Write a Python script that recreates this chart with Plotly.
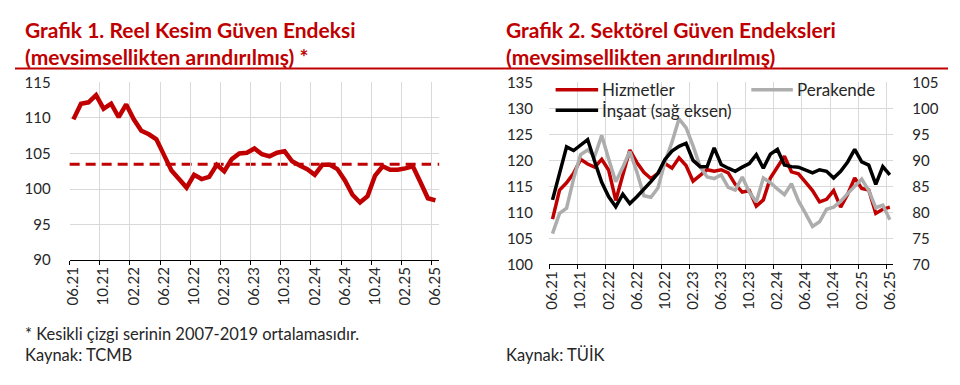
import plotly.graph_objects as go

# ---------------- data ----------------
months = ["06.21", "07.21", "08.21", "09.21", "10.21", "11.21", "12.21",
          "01.22", "02.22", "03.22", "04.22", "05.22", "06.22", "07.22",
          "08.22", "09.22", "10.22", "11.22", "12.22", "01.23", "02.23",
          "03.23", "04.23", "05.23", "06.23", "07.23", "08.23", "09.23",
          "10.23", "11.23", "12.23", "01.24", "02.24", "03.24", "04.24",
          "05.24", "06.24", "07.24", "08.24", "09.24", "10.24", "11.24",
          "12.24", "01.25", "02.25", "03.25", "04.25", "05.25", "06.25"]

reel_kesim = [109.8, 112.0, 112.2, 113.2, 111.3, 112.0, 110.1, 111.9, 109.8, 108.2,
              107.7, 107.0, 104.8, 102.6, 101.4, 100.2, 102.0, 101.4, 101.7, 103.4,
              102.5, 104.2, 105.0, 105.1, 105.7, 104.9, 104.6, 105.1, 105.3, 103.9,
              103.3, 102.8, 102.0, 103.4, 103.4, 102.8, 101.2, 99.2, 98.1, 99.0,
              101.9, 103.2, 102.7, 102.7, 102.9, 103.2, 101.0, 98.7, 98.4]
reel_kesim_avg_2007_2019 = 103.5

hizmetler = [108.7, 114.3, 115.7, 117.5, 120.2, 119.3, 118.7, 120.2, 118.1, 112.3,
             117.2, 122.0, 119.6, 117.7, 116.5, 117.5, 119.4, 118.5, 120.5, 119.0,
             116.0, 117.0, 118.2, 117.9, 118.2, 117.6, 115.4, 113.9, 114.2, 111.2,
             112.4, 116.6, 118.8, 120.8, 117.8, 117.4, 115.8, 114.2, 112.0, 112.5,
             114.2, 111.0, 113.5, 116.6, 114.6, 114.3, 109.8, 110.6, 111.0]

perakende = [105.9, 109.8, 110.8, 116.5, 121.1, 122.0, 120.8, 124.8, 120.2, 115.9,
             118.7, 121.7, 117.8, 113.2, 112.9, 114.7, 119.7, 123.5, 128.0, 126.3,
             122.8, 118.8, 116.8, 116.5, 117.2, 114.8, 114.3, 116.8, 113.9, 112.0,
             116.6, 115.7, 114.5, 113.4, 115.5, 112.2, 109.8, 107.3, 108.2, 110.6,
             111.0, 112.1, 113.6, 115.1, 116.4, 114.2, 110.9, 111.4, 108.6]

insaat = [82.4, 87.2, 92.6, 91.9, 92.9, 94.0, 89.8, 85.8, 83.0, 81.1,
          83.5, 81.7, 83.0, 84.4, 85.9, 87.5, 90.2, 91.8, 92.7, 93.3,
          90.0, 88.8, 88.8, 92.4, 89.2, 88.5, 87.9, 88.7, 89.4, 91.1,
          88.5, 91.2, 92.1, 89.1, 88.8, 88.7, 88.2, 87.6, 88.2, 87.9,
          86.6, 87.9, 89.7, 92.1, 89.7, 89.1, 85.4, 88.8, 87.2]

left_y_range = [90, 115]
right_y_range_left = [100, 135]
right_y_range_right = [70, 105]

title1_l1 = "Grafik 1. Reel Kesim Güven Endeksi"
title1_l2 = "(mevsimsellikten arındırılmış) *"
title2_l1 = "Grafik 2. Sektörel Güven Endeksleri"
title2_l2 = "(mevsimsellikten arındırılmış)"
note1 = "* Kesikli çizgi serinin 2007-2019 ortalamasıdır."
source1 = "Kaynak: TCMB"
source2 = "Kaynak: TÜİK"
series_names = ["Hizmetler", "Perakende", "İnşaat (sağ eksen)"]

# ---------------- style ----------------
# the page keeps the browser's default 8px body margin, so the figure is
# sized to fill the 960x385 window exactly together with that margin
OFF = 8
W, H = 960 - 2 * OFF, 385 - 2 * OFF
RED = "#C00000"
GREY = "#ADADAD"
BLACK = "#000000"
GRID = "#D9D9D9"
TXT = "#262626"
FONT = "Lato"
TICKFONT = dict(family=FONT, size=15, color=TXT)


def px_x(x):
    """window pixel x -> paper fraction"""
    return (x - OFF) / W


def px_y(y):
    """window pixel y (from top) -> paper fraction"""
    return 1 - (y - OFF) / H


fig = go.Figure()

fig.add_trace(go.Scatter(x=months, y=reel_kesim, mode="lines",
                         line=dict(color=RED, width=4.5),
                         xaxis="x", yaxis="y", showlegend=False,
                         hoverinfo="skip"))

fig.add_trace(go.Scatter(x=months, y=hizmetler, mode="lines", name=series_names[0],
                         line=dict(color=RED, width=3.5),
                         xaxis="x2", yaxis="y2", showlegend=False))
fig.add_trace(go.Scatter(x=months, y=perakende, mode="lines", name=series_names[1],
                         line=dict(color=GREY, width=3.5),
                         xaxis="x2", yaxis="y2", showlegend=False))
fig.add_trace(go.Scatter(x=months, y=insaat, mode="lines", name=series_names[2],
                         line=dict(color=BLACK, width=3.5),
                         xaxis="x2", yaxis="y3", showlegend=False))

common_x = dict(type="category", range=[-0.5, len(months) - 0.5],
                tickmode="linear", tick0=0, dtick=4, tickson="boundaries",
                ticks="outside", ticklen=4, tickcolor="#000", tickwidth=1,
                showline=True, linecolor="#000", linewidth=1,
                showgrid=True, gridcolor=GRID, gridwidth=1,
                tickangle=-90, tickfont=TICKFONT, fixedrange=True)

common_y = dict(dtick=5, showgrid=True, gridcolor=GRID, gridwidth=1,
                showline=False, ticks="", zeroline=False,
                tickfont=TICKFONT, fixedrange=True)

fig.update_layout(
    width=W, height=H,
    margin=dict(l=0, r=0, t=0, b=0),
    paper_bgcolor="white", plot_bgcolor="white",
    font=dict(family=FONT, color=TXT),
    showlegend=False,
    xaxis=dict(domain=[px_x(63.3), px_x(437.2)], anchor="y", **common_x),
    yaxis=dict(domain=[px_y(262.5), px_y(75.7)], anchor="x",
               range=left_y_range, ticklabelstandoff=18, **common_y),
    xaxis2=dict(domain=[px_x(548.3), px_x(896.7)], anchor="y2", **common_x),
    yaxis2=dict(domain=[px_y(267), px_y(75.7)], anchor="x2",
                range=right_y_range_left, ticklabelstandoff=15, **common_y),
    yaxis3=dict(overlaying="y2", side="right", anchor="x2",
                range=right_y_range_right, dtick=5, showgrid=False,
                showline=False, ticks="", zeroline=False,
                ticklabelstandoff=18, tickfont=TICKFONT, fixedrange=True),
)

shapes = []
# average dashed line (data coordinate on left chart)
shapes.append(dict(type="line", xref="x domain", yref="y", x0=0, x1=1,
                   y0=reel_kesim_avg_2007_2019, y1=reel_kesim_avg_2007_2019,
                   line=dict(color=RED, width=3, dash="10px,6px"), layer="below"))
# red separator under titles
shapes.append(dict(type="line", xref="paper", yref="paper",
                   x0=px_x(8), x1=px_x(952), y0=px_y(61), y1=px_y(61),
                   line=dict(color=RED, width=2)))
# legend samples
legend_items = [
    (series_names[0], RED, 555, 598, 83.5),
    (series_names[1], GREY, 753, 795, 83.5),
    (series_names[2], BLACK, 555, 598, 105),
]
annotations = []
for name, col, xa, xb, yy in legend_items:
    shapes.append(dict(type="line", xref="paper", yref="paper",
                       x0=px_x(xa), x1=px_x(xb), y0=px_y(yy), y1=px_y(yy),
                       line=dict(color=col, width=3.5)))
    annotations.append(dict(text=name, xref="paper", yref="paper",
                            x=px_x(xb + 2), y=px_y(yy), xanchor="left", yanchor="middle",
                            showarrow=False, font=dict(family=FONT, size=17, color=TXT)))

TITLEFONT = dict(family=FONT, size=21, color=RED, weight="bold")
for txt, x, y in [(title1_l1, 16, 20), (title1_l2, 16, 48),
                  (title2_l1, 503, 20), (title2_l2, 503, 48)]:
    annotations.append(dict(text=txt, xref="paper", yref="paper", x=px_x(x), y=px_y(y),
                            xanchor="left", yanchor="middle", showarrow=False,
                            font=TITLEFONT))

NOTEFONT = dict(family=FONT, size=16.5, color=TXT)
for txt, x, y in [(note1, 16, 340), (source1, 16, 362), (source2, 503, 362)]:
    annotations.append(dict(text=txt, xref="paper", yref="paper", x=px_x(x), y=px_y(y),
                            xanchor="left", yanchor="middle", showarrow=False,
                            font=NOTEFONT))

fig.update_layout(shapes=shapes, annotations=annotations)

fig.write_html("out.html", config={"displayModeBar": False})
